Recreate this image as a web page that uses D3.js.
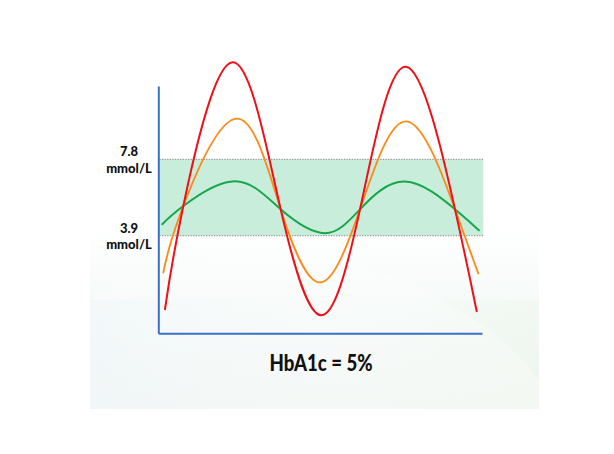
<!DOCTYPE html>
<html>
<head>
<meta charset="utf-8">
<script src="https://cdn.jsdelivr.net/npm/d3@7"></script>
<style>
  html, body { margin: 0; padding: 0; background: #ffffff; }
  svg { display: block; }
</style>
</head>
<body>
<svg id="chart" width="614" height="454"></svg>
<script>
// ---- data (time in arbitrary units 0..100, glucose in mmol/L) ----
const targetRange = [3.9, 7.8];
const rangeLabels = ["3.9", "7.8"];
const unitLabel = "mmol/L";
const title = "HbA1c = 5%";

const redT = [2.07, 7.73, 22.92, 37.81, 50.42, 62.31, 76.52, 91.66, 98.36];
const redV = [0.13, 5.41, 12.76, 5.24, -0.18, 5.24, 12.53, 5.24, 0.03];

const orangeT = [1.54, 7.72, 24.22, 37.81, 49.95, 62.31, 76.74, 91.66, 98.86];
const orangeV = [2.01, 5.41, 9.88, 5.24, 1.50, 5.24, 9.74, 5.24, 1.96];

const greenT = [1.24, 7.72, 23.69, 37.81, 51.5, 62.31, 76.21, 91.66, 99.03];
const greenV = [4.48, 5.41, 6.68, 5.24, 4.02, 5.24, 6.66, 5.24, 4.17];

const series = [
  { name: "green",  t: greenT,  v: greenV,  color: "#17a64a", width: 2 },
  { name: "orange", t: orangeT, v: orangeV, color: "#fb8a18", width: 1.8 },
  { name: "red",    t: redT,    v: redV,    color: "#ee1018", width: 2 }
];

// ---- layout ----
const svg = d3.select("#chart");
const x = d3.scaleLinear().domain([0, 100]).range([158.3, 482]);
const y = d3.scaleLinear().domain([-1.1, 11.55]).range([333.3, 86]);

// background panel
const defs = svg.append("defs");
const g1 = defs.append("linearGradient").attr("id", "bg").attr("x1", 0).attr("y1", 0).attr("x2", 0).attr("y2", 1);
g1.append("stop").attr("offset", "0%").attr("stop-color", "#ffffff").attr("stop-opacity", 0);
g1.append("stop").attr("offset", "45%").attr("stop-color", "#f6faf9").attr("stop-opacity", 1);
g1.append("stop").attr("offset", "100%").attr("stop-color", "#eef4f2").attr("stop-opacity", 1);
const g2 = defs.append("linearGradient").attr("id", "bgh").attr("x1", 0).attr("y1", 0).attr("x2", 1).attr("y2", 0);
g2.append("stop").attr("offset", "0%").attr("stop-color", "#e9f1f6").attr("stop-opacity", 0.7);
g2.append("stop").attr("offset", "50%").attr("stop-color", "#f3f8f4").attr("stop-opacity", 0.2);
g2.append("stop").attr("offset", "100%").attr("stop-color", "#eef6ea").attr("stop-opacity", 0.6);

svg.append("rect").attr("x", 90).attr("y", 200).attr("width", 449).attr("height", 209).attr("fill", "url(#bg)");
svg.append("rect").attr("x", 90).attr("y", 300).attr("width", 449).attr("height", 109).attr("fill", "url(#bgh)").attr("opacity", 0.8);
svg.append("path")
  .attr("d", "M90,300 C180,250 300,240 400,280 C460,305 510,340 539,380 L539,409 L90,409 Z")
  .attr("fill", "#ffffff").attr("opacity", 0.3);

// target band
const bandX0 = x.range()[0] + 1, bandX1 = x.range()[1] + 1.3;
svg.append("rect")
  .attr("x", bandX0).attr("y", y(targetRange[1]))
  .attr("width", bandX1 - bandX0).attr("height", y(targetRange[0]) - y(targetRange[1]))
  .attr("fill", "#c8eedb");
targetRange.forEach(v => {
  svg.append("line")
    .attr("x1", bandX0).attr("x2", bandX1)
    .attr("y1", y(v)).attr("y2", y(v))
    .attr("stroke", "#9a9a9a").attr("stroke-width", 1.2)
    .attr("stroke-dasharray", "1.3,1.3");
});

// axes (domain lines only)
const yAxis = svg.append("g").attr("transform", `translate(${x.range()[0]},0)`)
  .call(d3.axisLeft(y).ticks(0).tickSize(0).tickSizeOuter(0));
const xAxis = svg.append("g").attr("transform", `translate(0,${y.range()[0]})`)
  .call(d3.axisBottom(x).ticks(0).tickSize(0).tickSizeOuter(0));
[yAxis, xAxis].forEach(a => a.select(".domain").attr("stroke", "#3c6fc6").attr("stroke-width", 2));
yAxis.selectAll("text").remove();
xAxis.selectAll("text").remove();

// curves
const line = d3.line().x(d => x(d[0])).y(d => y(d[1])).curve(d3.curveNatural);
series.forEach(s => {
  svg.append("path")
    .datum(s.t.map((t, i) => [t, s.v[i]]))
    .attr("d", line)
    .attr("fill", "none")
    .attr("stroke", s.color)
    .attr("stroke-width", s.width)
    .attr("stroke-linecap", "round");
});

// labels
const font = "Lato, 'Open Sans', sans-serif";
[[targetRange[1], rangeLabels[1]], [targetRange[0], rangeLabels[0]]].forEach(([v, lab]) => {
  const yy = y(v);
  svg.append("text").attr("x", 129).attr("y", yy - 3)
    .attr("text-anchor", "middle").attr("font-family", font).attr("font-weight", 900)
    .attr("font-size", 13).attr("fill", "#111").text(lab);
  svg.append("text").attr("x", 129).attr("y", yy + 13.5)
    .attr("text-anchor", "middle").attr("font-family", font).attr("font-weight", 900)
    .attr("font-size", 13).attr("fill", "#111").text(unitLabel);
});

svg.append("text").attr("x", 321).attr("y", 370.7)
  .attr("text-anchor", "middle").attr("font-family", font).attr("font-weight", 900)
  .attr("font-size", 22).attr("fill", "#111")
  .attr("textLength", 103).attr("lengthAdjust", "spacingAndGlyphs")
  .text(title);
</script>
</body>
</html>
